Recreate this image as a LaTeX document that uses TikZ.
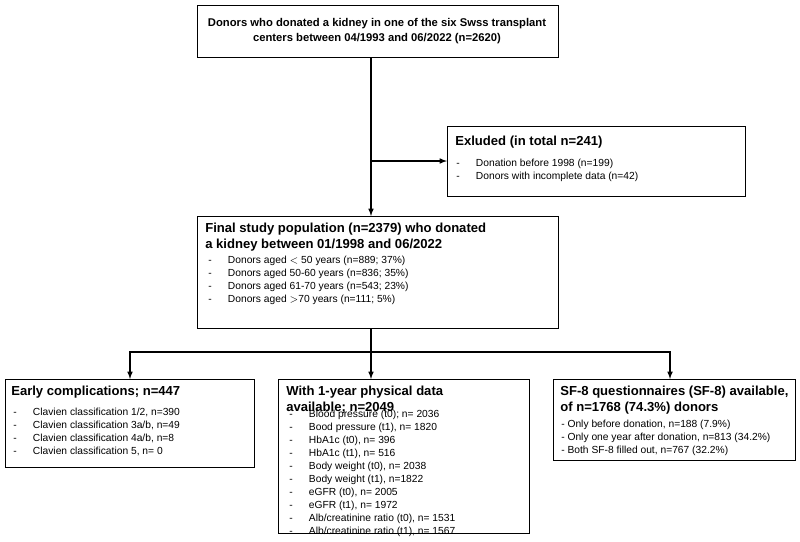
\documentclass[tikz,border=0pt]{standalone}
\usepackage{fontspec}
\setmainfont{Liberation Sans}
\usetikzlibrary{positioning,arrows}
\newcommand{\itm}{\makebox[14pt][l]{-}}
\begin{document}
\begin{tikzpicture}[x=0.025cm,y=-0.025cm,
box/.style={draw, thick, anchor=north west, inner sep=0pt},
txt/.style={anchor=north west, align=left, inner sep=0pt, font=\fontsize{7.3pt}{9.2pt}\selectfont},
ttl/.style={anchor=north west, align=left, inner sep=0pt, font=\fontsize{9.3pt}{11pt}\selectfont\bfseries},
arr/.style={thick, -latex}]
\useasboundingbox (0,0) rectangle (800,541);

\node[box, minimum width=361*0.025cm, minimum height=52*0.025cm] (top) at (197,5) {};
\node[ttl, align=center, anchor=center, font=\fontsize{8pt}{11pt}\selectfont\bfseries] (toptxt) at (377,31) {Donors who donated a kidney in one of the six Swss transplant\\centers between 04/1993 and 06/2022 (n=2620)};

\node[box, minimum width=298*0.025cm, minimum height=70*0.025cm] (excl) at (447,126) {};
\node[ttl] (excltxt) at (455,136) {Exluded (in total n=241)};
\node[txt] (excllist) at (456,159) {\itm Donation before 1998 (n=199)\\\itm Donors with incomplete data (n=42)};

\node[box, minimum width=361*0.025cm, minimum height=112*0.025cm] (final) at (197,216) {};
\node[ttl] (finaltxt) at (205,223) {Final study population (n=2379) who donated\\a kidney between 01/1998 and 06/2022};
\node[txt] (finallist) at (208,256) {\itm Donors aged $<$ 50 years (n=889; 37\%)\\\itm Donors aged 50-60 years (n=836; 35\%)\\\itm Donors aged 61-70 years (n=543; 23\%)\\\itm Donors aged $>$70 years (n=111; 5\%)};

\node[box, minimum width=249*0.025cm, minimum height=88*0.025cm] (early) at (5,379) {};
\node[ttl] (earlytxt) at (11,386) {Early complications; n=447};
\node[txt] (earlylist) at (13,408) {\itm Clavien classification 1/2, n=390\\\itm Clavien classification 3a/b, n=49\\\itm Clavien classification 4a/b, n=8\\\itm Clavien classification 5, n= 0};

\node[box, minimum width=251*0.025cm, minimum height=154*0.025cm] (phys) at (278,379) {};
\node[ttl] (phystxt) at (286,386) {With 1-year physical data\\available; n=2049};
\node[txt] (physlist) at (289,410) {\itm Blood pressure (t0); n= 2036\\\itm Bood pressure (t1), n= 1820\\\itm HbA1c (t0), n= 396\\\itm HbA1c (t1), n= 516\\\itm Body weight (t0), n= 2038\\\itm Body weight (t1), n=1822\\\itm eGFR (t0), n= 2005\\\itm eGFR (t1), n= 1972\\\itm Alb/creatinine ratio (t0), n= 1531\\\itm Alb/creatinine ratio (t1), n= 1567};

\node[box, minimum width=242*0.025cm, minimum height=81*0.025cm] (sf) at (553,379) {};
\node[ttl] (sftxt) at (560,386) {SF-8 questionnaires (SF-8) available,\\of n=1768 (74.3\%) donors};
\node[txt] (sflist) at (561,420) {- Only before donation, n=188 (7.9\%)\\- Only one year after donation, n=813 (34.2\%)\\- Both SF-8 filled out, n=767 (32.2\%)};

\coordinate (split) at (371,161);
\coordinate (fork) at (371,352);
\draw[arr] (top.south -| split) -- (final.north -| split);
\draw[arr] (split) -- (excl.west |- split);
\draw[thick] (final.south -| fork) -- (fork);
\draw[arr] (fork) -| (early.north -| 130,0);
\draw[arr] (fork) -| (sf.north -| 670,0);
\draw[arr] (fork) -- (phys.north -| fork);
\end{tikzpicture}
\end{document}
